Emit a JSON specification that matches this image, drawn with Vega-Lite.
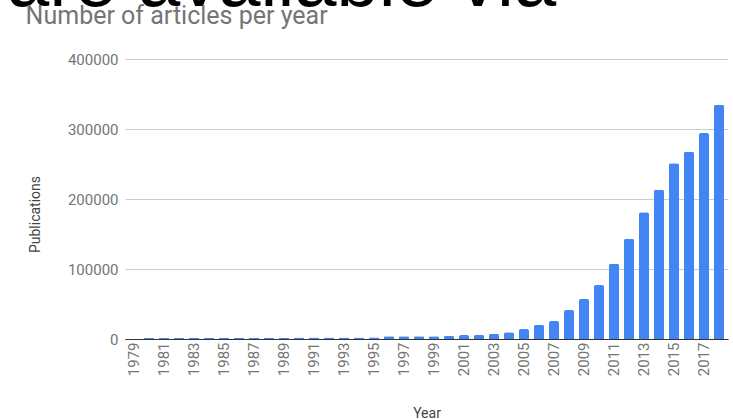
{
  "$schema": "https://vega.github.io/schema/vega-lite/v6.json",
  "autosize": {"type": "none"},
  "width": 603,
  "height": 280,
  "padding": {"left": 125, "top": 59, "right": 5, "bottom": 80},
  "background": "white",
  "title": {
    "text": "are available via",
    "font": "Liberation Sans",
    "fontSize": 76,
    "fontWeight": "normal",
    "color": "#000000",
    "anchor": "start",
    "frame": "group",
    "dx": -118,
    "dy": -18,
    "subtitle": "\u200b\u00a0\u00a0\u00a0Number of articles per year",
    "subtitleFont": "Roboto",
    "subtitleFontSize": 25,
    "subtitleColor": "#757575",
    "subtitlePadding": -18
  },
  "data": {
    "values": [
      {"year": 1979, "publications": 0},
      {"year": 1980, "publications": 1500},
      {"year": 1981, "publications": 1600},
      {"year": 1982, "publications": 1600},
      {"year": 1983, "publications": 1700},
      {"year": 1984, "publications": 1700},
      {"year": 1985, "publications": 1800},
      {"year": 1986, "publications": 1800},
      {"year": 1987, "publications": 1800},
      {"year": 1988, "publications": 1900},
      {"year": 1989, "publications": 1900},
      {"year": 1990, "publications": 2000},
      {"year": 1991, "publications": 2000},
      {"year": 1992, "publications": 2000},
      {"year": 1993, "publications": 2100},
      {"year": 1994, "publications": 2200},
      {"year": 1995, "publications": 2300},
      {"year": 1996, "publications": 3800},
      {"year": 1997, "publications": 3900},
      {"year": 1998, "publications": 3900},
      {"year": 1999, "publications": 3800},
      {"year": 2000, "publications": 4200},
      {"year": 2001, "publications": 5600},
      {"year": 2002, "publications": 5900},
      {"year": 2003, "publications": 7400},
      {"year": 2004, "publications": 9500},
      {"year": 2005, "publications": 14300},
      {"year": 2006, "publications": 20300},
      {"year": 2007, "publications": 25700},
      {"year": 2008, "publications": 41400},
      {"year": 2009, "publications": 57100},
      {"year": 2010, "publications": 77000},
      {"year": 2011, "publications": 107600},
      {"year": 2012, "publications": 143300},
      {"year": 2013, "publications": 180900},
      {"year": 2014, "publications": 213300},
      {"year": 2015, "publications": 250900},
      {"year": 2016, "publications": 267600},
      {"year": 2017, "publications": 294300},
      {"year": 2018, "publications": 334700}
    ]
  },
  "mark": {
    "type": "bar",
    "color": "#4285F4",
    "cornerRadiusTopLeft": 2,
    "cornerRadiusTopRight": 2
  },
  "encoding": {
    "x": {
      "field": "year",
      "type": "ordinal",
      "scale": {"paddingInner": 0.33, "paddingOuter": 0.265},
      "axis": {
        "title": "Year",
        "values": [1979, 1981, 1983, 1985, 1987, 1989, 1991, 1993, 1995, 1997, 1999, 2001, 2003, 2005, 2007, 2009, 2011, 2013, 2015, 2017],
        "labelAngle": -90,
        "labelFont": "Roboto",
        "labelFontSize": 15,
        "labelColor": "#757575",
        "labelPadding": 3,
        "ticks": false,
        "domainColor": "#333333",
        "domainWidth": 1,
        "titleFont": "Roboto",
        "titleFontSize": 14,
        "titleFontWeight": "normal",
        "titleColor": "#444444",
        "titleY": 78,
        "titleBaseline": "alphabetic"
      }
    },
    "y": {
      "field": "publications",
      "type": "quantitative",
      "scale": {"domain": [0, 400000], "nice": false},
      "axis": {
        "title": "Publications",
        "values": [0, 100000, 200000, 300000, 400000],
        "format": "d",
        "labelFont": "Roboto",
        "labelFontSize": 15,
        "labelColor": "#757575",
        "labelPadding": 7,
        "ticks": false,
        "domain": false,
        "gridColor": "#cccccc",
        "titleFont": "Roboto",
        "titleFontSize": 14,
        "titleFontWeight": "normal",
        "titleColor": "#444444",
        "titleX": -90,
        "titleY": 155,
        "titleAngle": -90,
        "titleAlign": "center",
        "titleBaseline": "middle"
      }
    }
  },
  "config": {
    "view": {"stroke": null}
  }
}
